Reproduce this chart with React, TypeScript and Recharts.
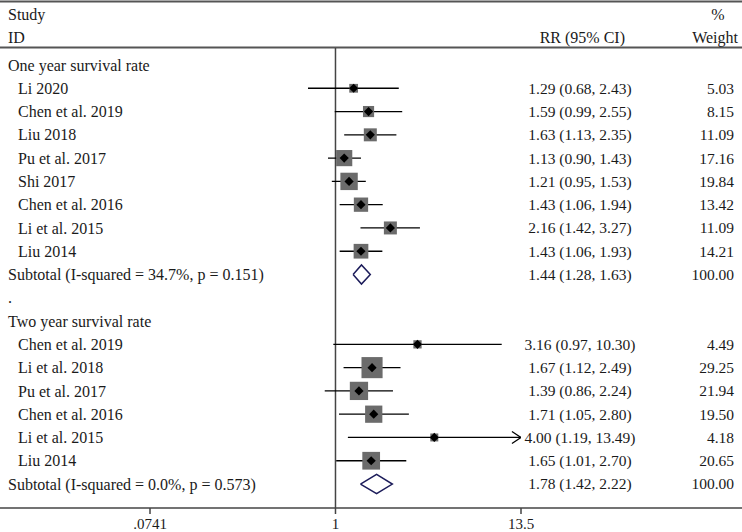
import React from "react";
import {
  ComposedChart,
  Scatter,
  ErrorBar,
  XAxis,
  YAxis,
  ReferenceLine,
  Customized,
} from "recharts";

// one year survival rate
const oneYearStudies = ["Li 2020", "Chen et al. 2019", "Liu 2018", "Pu et al. 2017", "Shi 2017", "Chen et al. 2016", "Li et al. 2015", "Liu 2014"];
const oneYearRR = [1.29, 1.59, 1.63, 1.13, 1.21, 1.43, 2.16, 1.43];
const oneYearLo = [0.68, 0.99, 1.13, 0.9, 0.95, 1.06, 1.42, 1.06];
const oneYearHi = [2.43, 2.55, 2.35, 1.43, 1.53, 1.94, 3.27, 1.93];
const oneYearWeight = [5.03, 8.15, 11.09, 17.16, 19.84, 13.42, 11.09, 14.21];
const oneYearSubtotal = { label: "Subtotal (I-squared = 34.7%, p = 0.151)", rr: 1.44, lo: 1.28, hi: 1.63, w: 100 };

// two year survival rate
const twoYearStudies = ["Chen et al. 2019", "Li et al. 2018", "Pu et al. 2017", "Chen et al. 2016", "Li et al. 2015", "Liu 2014"];
const twoYearRR = [3.16, 1.67, 1.39, 1.71, 4.0, 1.65];
const twoYearLo = [0.97, 1.12, 0.86, 1.05, 1.19, 1.01];
const twoYearHi = [10.3, 2.49, 2.24, 2.8, 13.49, 2.7];
const twoYearWeight = [4.49, 29.25, 21.94, 19.5, 4.18, 20.65];
const twoYearArrow = [false, false, false, false, true, false];
const twoYearSubtotal = { label: "Subtotal (I-squared = 0.0%, p = 0.573)", rr: 1.78, lo: 1.42, hi: 2.22, w: 100 };

const xTicks = [0.0741, 1, 13.5];

type Row = {
  y: number;
  kind: "group" | "study" | "subtotal" | "blank";
  label: string;
  x?: number;
  lo?: number;
  hi?: number;
  w?: number;
  err?: [number, number];
  arrow?: boolean;
};

const rows: Row[] = [];
const addGroup = (
  title: string,
  names: string[],
  rr: number[],
  lo: number[],
  hi: number[],
  w: number[],
  sub: typeof oneYearSubtotal,
  arrows?: boolean[]
) => {
  rows.push({ y: rows.length, kind: "group", label: title });
  names.forEach((n, i) => {
    rows.push({
      y: rows.length,
      kind: "study",
      label: n,
      x: rr[i],
      lo: lo[i],
      hi: hi[i],
      w: w[i],
      err: [rr[i] - lo[i], hi[i] - rr[i]],
      arrow: arrows ? arrows[i] : false,
    });
  });
  rows.push({ y: rows.length, kind: "subtotal", label: sub.label, x: sub.rr, lo: sub.lo, hi: sub.hi, w: sub.w });
};
addGroup("One year survival rate", oneYearStudies, oneYearRR, oneYearLo, oneYearHi, oneYearWeight, oneYearSubtotal);
rows.push({ y: rows.length, kind: "blank", label: "." });
addGroup("Two year survival rate", twoYearStudies, twoYearRR, twoYearLo, twoYearHi, twoYearWeight, twoYearSubtotal, twoYearArrow);

const studyRows = rows.filter((r) => r.kind === "study");
const arrowRows = studyRows.filter((r) => r.arrow).map((r) => ({ x: r.hi, y: r.y }));
const diamond = (r: Row) => [
  { x: r.lo, y: r.y },
  { x: r.x, y: r.y - 0.41 },
  { x: r.hi, y: r.y },
  { x: r.x, y: r.y + 0.41 },
  { x: r.lo, y: r.y },
];
const subRows = rows.filter((r) => r.kind === "subtotal");

const FONT = "'Liberation Serif', 'DejaVu Serif', serif";
const FS = 16;
const NUM_FS = 15.5;
const TXT = "#1a1a1a";
const fmt = (v: number) => v.toFixed(2);

// study labels on the left, RR and weight columns on the right
const RowTick = (props: any) => {
  const r = rows[props.payload.value];
  if (!r) return null;
  const x = r.kind === "study" ? 18 : 8;
  return (
    <g fontFamily={FONT} fill={TXT}>
      <text x={x} y={props.y} dy="0.35em" fontSize={FS} textAnchor="start">
        {r.label}
      </text>
      {r.x !== undefined && (
        <>
          <text x={580} y={props.y} dy="0.35em" fontSize={NUM_FS} textAnchor="middle">
            {`${fmt(r.x)} (${fmt(r.lo!)}, ${fmt(r.hi!)})`}
          </text>
          <text x={734} y={props.y} dy="0.35em" fontSize={NUM_FS} textAnchor="end">
            {fmt(r.w!)}
          </text>
        </>
      )}
    </g>
  );
};

const Frame = () => (
  <g fontFamily={FONT} fontSize={FS} fill={TXT}>
    <line x1={0} x2={742} y1={1.5} y2={1.5} stroke="#555" strokeWidth={2} />
    <line x1={0} x2={742} y1={47.5} y2={47.5} stroke="#555" strokeWidth={2} />
    <line x1={0} x2={742} y1={508} y2={508} stroke="#444" strokeWidth={1.5} />
    <text x={8} y={14} dy="0.35em">Study</text>
    <text x={8} y={37} dy="0.35em">ID</text>
    <text x={625} y={37} dy="0.35em" textAnchor="end">RR (95% CI)</text>
    <text x={718} y={14} dy="0.35em" textAnchor="middle">%</text>
    <text x={738} y={37} dy="0.35em" textAnchor="end">Weight</text>
  </g>
);

const Box = (props: any) => {
  const s = 3.9 * Math.sqrt(props.payload.w);
  return <rect x={props.cx - s / 2} y={props.cy - s / 2} width={s} height={s} fill="#6b6b6b" />;
};

const Point = (props: any) => {
  const { cx, cy } = props;
  const d = 4.6;
  return <polygon points={`${cx - d},${cy} ${cx},${cy - d} ${cx + d},${cy} ${cx},${cy + d}`} fill="#000" />;
};

const Arrow = (props: any) => {
  const { cx, cy } = props;
  return <polyline points={`${cx - 9},${cy - 6} ${cx},${cy} ${cx - 9},${cy + 6}`} fill="none" stroke="#000" strokeWidth={1.3} />;
};

const Empty = () => <g />;

export default function App() {
  const yDomain: [number, number] = [-0.73, 19.03];
  return (
    <div style={{ position: "absolute", left: 0, top: 0, background: "#fff" }}>
      <ComposedChart width={742} height={532} margin={{ top: 48, right: 221, bottom: 0, left: 0 }}>
        <Customized component={Frame} />
        <XAxis
          dataKey="x"
          type="number"
          scale="log"
          domain={[0.0741, 13.5]}
          allowDataOverflow
          ticks={xTicks}
          tickFormatter={(v: number) => (v < 1 ? String(v).replace(/^0/, "") : String(v))}
          axisLine={false}
          tickLine={{ stroke: "#444", strokeWidth: 1.5 }}
          tickSize={6}
          tickMargin={4}
          tick={{ fontFamily: FONT, fontSize: 15, fill: TXT }}
          height={24}
        />
        <YAxis
          yAxisId="left"
          dataKey="y"
          type="number"
          reversed
          domain={yDomain}
          ticks={rows.map((r) => r.y)}
          interval={0}
          width={150}
          axisLine={false}
          tickLine={false}
          tick={RowTick}
        />
        <ReferenceLine yAxisId="left" x={1} stroke="#444" strokeWidth={1.5} />
        <Scatter yAxisId="left" data={studyRows} shape={Box} isAnimationActive={false} />
        <Scatter yAxisId="left" data={studyRows} shape={Point} isAnimationActive={false}>
          <ErrorBar dataKey="err" direction="x" width={0} stroke="#000" strokeWidth={1.3} isAnimationActive={false} />
        </Scatter>
        <Scatter yAxisId="left" data={arrowRows} shape={Arrow} isAnimationActive={false} />
        {subRows.map((r, i) => (
          <Scatter
            key={i}
            yAxisId="left"
            data={diamond(r)}
            line={{ stroke: "#1c1c5a", strokeWidth: 1.5 }}
            lineJointType="linear"
            shape={Empty}
            isAnimationActive={false}
          />
        ))}
      </ComposedChart>
    </div>
  );
}
